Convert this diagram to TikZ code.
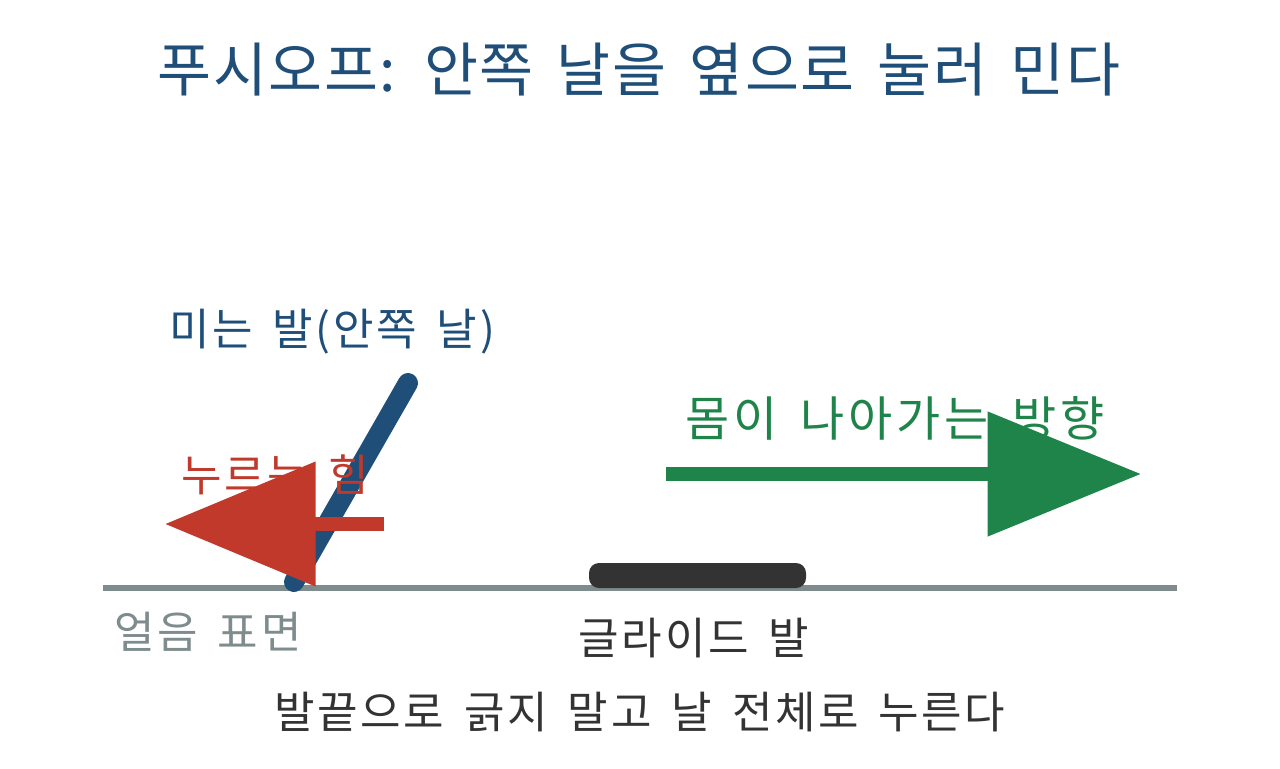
\documentclass[tikz,border=0pt]{standalone}
\usepackage{fontspec}
\setmainfont{Noto Sans CJK KR}[LetterSpace=6, WordSpace=1.6]
\usetikzlibrary{arrows.meta}
\definecolor{bladeblue}{HTML}{1F4E79}
\definecolor{pushred}{HTML}{C0392B}
\definecolor{movegreen}{HTML}{1E8449}
\definecolor{icegray}{HTML}{7F8C8D}
\definecolor{footdark}{HTML}{333333}

\begin{document}
\begin{tikzpicture}[x=0.75pt, y=-0.75pt,
    lbl/.style={font=\fontsize{33}{38}\selectfont, inner sep=0pt}]
        \useasboundingbox (0,0) rectangle (1280,768);
        % ice and glide foot
        \coordinate (iceL) at (103,588);
        \coordinate (iceR) at (1177,588);
        \draw[icegray, line width=4.5pt] (iceL) -- (iceR);
        \fill[footdark, rounded corners=7.5pt] (589,563) rectangle (806,588);
        % pushing foot
        \coordinate (bladeTop) at (408,383);
        \coordinate (bladeTip) at (294,582);
        \draw[bladeblue, line width=15pt, line cap=round] (bladeTop) -- (bladeTip);
        % texts
        \node[font=\fontsize{44}{50}\selectfont\addfontfeatures{LetterSpace=2.5}, text=bladeblue] (title) at (639,70) {푸시오프: 안쪽 날을 옆으로 눌러 민다};
        \node[lbl, text=bladeblue] (pushfoot) at (332,332) {미는 발(안쪽 날)};
        \node[lbl, text=pushred] (force) at (275,475) {누르는 힘};
        \node[lbl, font=\fontsize{36}{40}\selectfont\addfontfeatures{LetterSpace=8}, text=movegreen] (dir) at (895,418) {몸이 나아가는 방향};
        \node[lbl, text=icegray] (ice) at (208,632) {얼음 표면};
        \node[lbl, text=footdark] (glide) at (694,638) {글라이드 발};
        \node[font=\fontsize{33}{38}\selectfont, text=footdark] (note) at (640,712) {발끝으로 긁지 말고 날 전체로 누른다};
        % arrows
        \coordinate (forceS) at (384,524);
        \coordinate (forceE) at (165,524);
        \draw[pushred, line width=10.5pt, -{Triangle[length=113pt, width=91pt]}] (forceS) -- (forceE);
        \coordinate (dirS) at (666,474);
        \coordinate (dirE) at (1141,474);
        \draw[movegreen, line width=10.5pt, -{Triangle[length=115pt, width=91pt]}] (dirS) -- (dirE);
    \end{tikzpicture}
\end{document}
